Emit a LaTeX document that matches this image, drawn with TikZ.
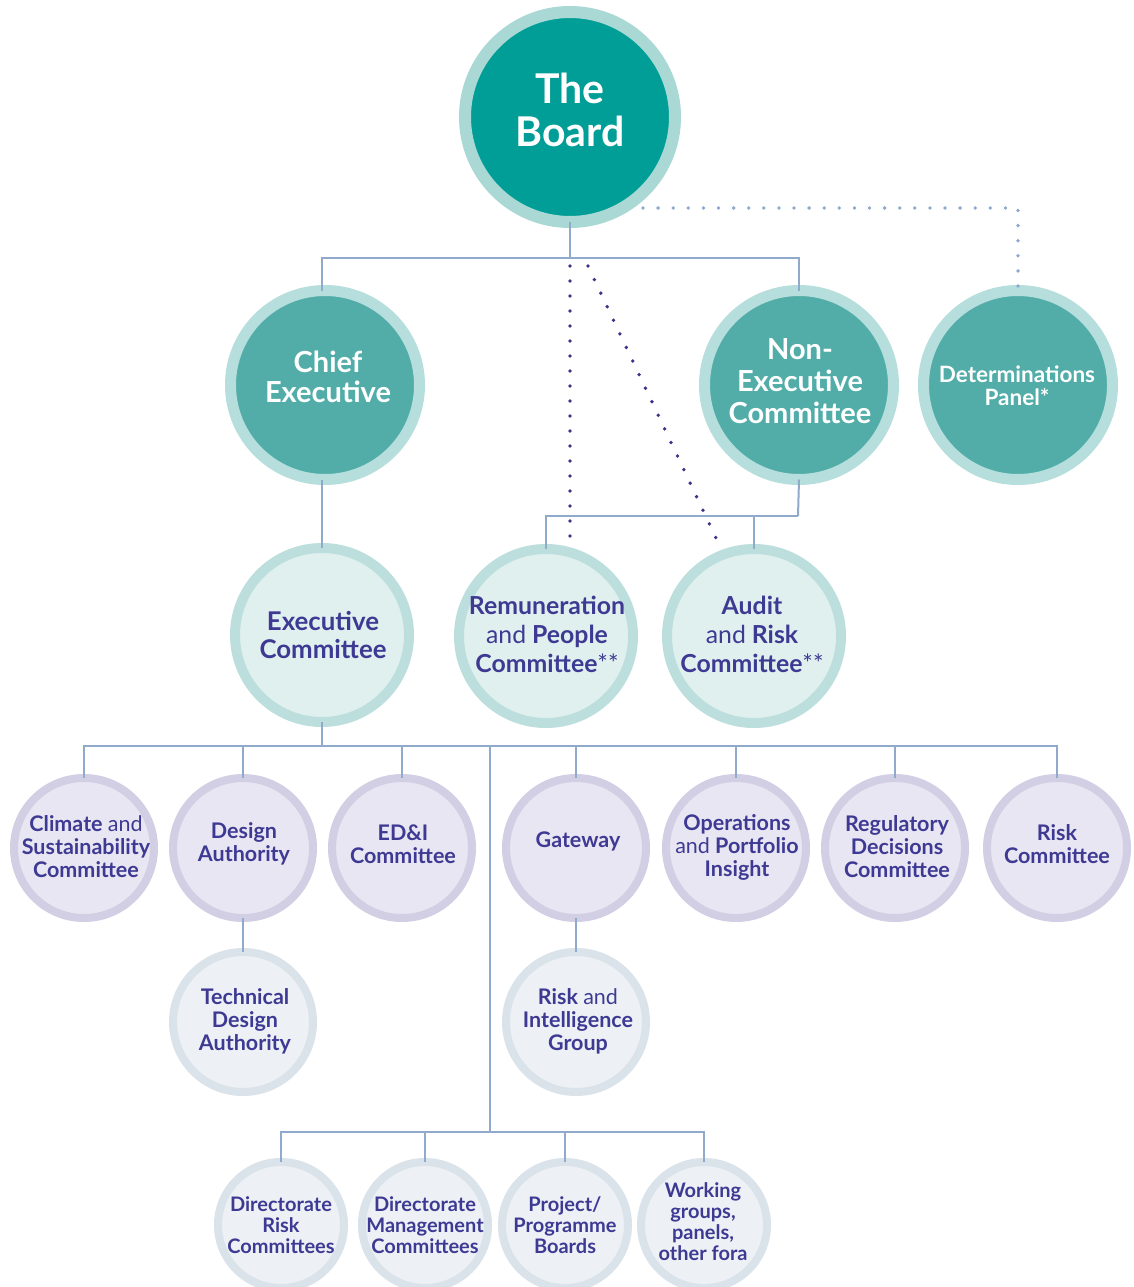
\documentclass[tikz,border=0pt]{standalone}
\usepackage{fontspec}
\setmainfont{Lato}
\definecolor{boardfill}{HTML}{009E96}
\definecolor{boardring}{HTML}{A9D8D5}
\definecolor{tealfill}{HTML}{52ADA9}
\definecolor{tealring}{HTML}{B6DEDC}
\definecolor{palefill}{HTML}{E0F0EF}
\definecolor{palering}{HTML}{BCDFDE}
\definecolor{lilfill}{HTML}{E8E6F2}
\definecolor{lilring}{HTML}{D2CFE4}
\definecolor{grayfill}{HTML}{EDF1F5}
\definecolor{grayring}{HTML}{DAE2EA}
\definecolor{linecol}{HTML}{8FAACB}
\definecolor{txtcol}{HTML}{3E3A93}
\definecolor{dotpurple}{HTML}{3B3589}
\definecolor{dotblue}{HTML}{8FA8CF}
\begin{document}
\begin{tikzpicture}[x=1pt,y=-1pt,
  disc/.style={circle,inner sep=0pt,outer sep=0pt},
  boardc/.style={disc,draw=boardring,fill=boardfill,line width=12pt,minimum size=210pt},
  tealc/.style={disc,draw=tealring,fill=tealfill,line width=11pt,minimum size=189pt},
  palec/.style={disc,draw=palering,fill=palefill,line width=10pt,minimum size=174pt},
  lilc/.style={disc,draw=lilring,fill=lilfill,line width=8pt,minimum size=140pt},
  grayc/.style={disc,draw=grayring,fill=grayfill,line width=8pt,minimum size=140pt},
  smallc/.style={disc,draw=grayring,fill=grayfill,line width=8pt,minimum size=126pt},
  wtxt/.style={text=white,align=center,inner sep=0pt,font=\bfseries},
  ptxt/.style={text=txtcol,align=center,inner sep=0pt,font=\bfseries},
  conn/.style={draw=linecol,line width=2pt},
  pdots/.style={draw=dotpurple,line width=3.8pt,line cap=round,dash pattern=on 0pt off 15pt},
  bdots/.style={draw=dotblue,line width=3.8pt,line cap=round,dash pattern=on 0pt off 15.1pt}
]
\useasboundingbox (0,0) rectangle (1133,1287);
\fill[white] (0,0) rectangle (1133,1287);

\coordinate (j1) at (570,258);
\coordinate (j2) at (798,516);
\coordinate (bus) at (322,746);
\coordinate (bus2) at (490,1132);
\coordinate (pv1) at (570,266);
\coordinate (pv2) at (570,536);
\coordinate (pd1) at (588,266);
\coordinate (pd2) at (716,538);
\coordinate (bd1) at (643,208);

% ---- circles
\node[boardc] (board) at (570,117) {};
\node[tealc] (chief) at (325,385) {};
\node[tealc] (nonexec) at (799,385) {};
\node[tealc] (det) at (1018,385) {};
\node[palec] (exec) at (322,635) {};
\node[palec] (rem) at (546,636) {};
\node[palec] (audit) at (754,636) {};
\node[lilc] (climate) at (84,848) {};
\node[lilc] (design) at (243,848) {};
\node[lilc] (edi) at (402,848) {};
\node[lilc] (gateway) at (576,848) {};
\node[lilc] (ops) at (736,848) {};
\node[lilc] (reg) at (895,848) {};
\node[lilc] (riskc) at (1057,848) {};
\node[grayc] (tech) at (243,1022) {};
\node[grayc] (rig) at (576,1022) {};
\node[smallc] (drc) at (281,1225) {};
\node[smallc] (dmc) at (425,1225) {};
\node[smallc] (ppb) at (565,1225) {};
\node[smallc] (wg) at (704,1225) {};

% ---- solid connectors
\draw[conn] (board.south) -- (j1);
\draw[conn] (chief.north -| exec.north) |- (j1) -| (nonexec.north);
\draw[conn] (chief.south -| exec.north) -- (exec.north);
\draw[conn] (nonexec.south) -- (j2);
\draw[conn] (rem.north) |- (j2);
\draw[conn] (audit.north) -- (audit.north |- j2);
\draw[conn] (exec.south) -- (bus);
\draw[conn] (climate.north) |- (bus) -| (riskc.north);
\draw[conn] (design.north) -- (design.north |- bus);
\draw[conn] (edi.north) -- (edi.north |- bus);
\draw[conn] (gateway.north) -- (gateway.north |- bus);
\draw[conn] (ops.north) -- (ops.north |- bus);
\draw[conn] (reg.north) -- (reg.north |- bus);
\draw[conn] (design.south) -- (tech.north);
\draw[conn] (gateway.south) -- (rig.north);
\draw[conn] (bus2 |- bus) -- (bus2);
\draw[conn] (drc.north) |- (bus2) -| (wg.north);
\draw[conn] (dmc.north) -- (dmc.north |- bus2);
\draw[conn] (ppb.north) -- (ppb.north |- bus2);

% ---- dotted connectors
\draw[pdots] (pv1) -- (pv2);
\draw[pdots] (pd1) -- (pd2);
\draw[bdots] (bd1) -| ([yshift=-3pt]det.north);

% ---- texts
\node[wtxt,font=\fontsize{41}{43}\selectfont\bfseries] (board-t) at (570,110) {The\\Board};
\node[wtxt,font=\fontsize{29}{30}\selectfont\bfseries] (chief-t) at (328,377) {Chief\\Executive};
\node[wtxt,font=\fontsize{29}{32}\selectfont\bfseries] (nonexec-t) at (800,381) {Non-\\Executive\\Committee};
\node[wtxt,font=\fontsize{22.5}{23}\selectfont\bfseries] (det-t) at (1017,386) {Determinations\\Panel*};
\node[ptxt,font=\fontsize{25.8}{28}\selectfont\bfseries] (exec-t) at (323,635) {Executive\\Committee};
\node[ptxt,font=\fontsize{24.8}{29}\selectfont\bfseries] (rem-t) at (547,634) {Remuneration\\{\mdseries and} People\\Committee{\mdseries**}};
\node[ptxt,font=\fontsize{24.8}{29}\selectfont\bfseries] (audit-t) at (752,634) {Audit\\{\mdseries and} Risk\\Committee{\mdseries**}};
\node[ptxt,font=\fontsize{21.5}{23}\selectfont\bfseries] (climate-t) at (86,847) {Climate {\mdseries and}\\Sustainability\\Committee};
\node[ptxt,font=\fontsize{21.5}{23}\selectfont\bfseries] (design-t) at (244,844) {Design\\Authority};
\node[ptxt,font=\fontsize{21.5}{23}\selectfont\bfseries] (edi-t) at (403,844) {ED\&I\\Committee};
\node[ptxt,font=\fontsize{21.5}{23}\selectfont\bfseries] (gateway-t) at (578,841) {Gateway};
\node[ptxt,font=\fontsize{21.5}{23}\selectfont\bfseries] (ops-t) at (737,847) {Operations\\{\mdseries and} Portfolio\\Insight};
\node[ptxt,font=\fontsize{21.5}{23}\selectfont\bfseries] (reg-t) at (897,847) {Regulatory\\Decisions\\Committee};
\node[ptxt,font=\fontsize{21.5}{23}\selectfont\bfseries] (riskc-t) at (1057,844) {Risk\\Committee};
\node[ptxt,font=\fontsize{21.5}{23}\selectfont\bfseries] (tech-t) at (245,1021) {Technical\\Design\\Authority};
\node[ptxt,font=\fontsize{21.5}{23}\selectfont\bfseries] (rig-t) at (578,1021) {Risk {\mdseries and}\\Intelligence\\Group};
\node[ptxt,font=\fontsize{20}{21}\selectfont\bfseries] (drc-t) at (281,1225) {Directorate\\Risk\\Committees};
\node[ptxt,font=\fontsize{20}{21}\selectfont\bfseries] (dmc-t) at (425,1225) {Directorate\\Management\\Committees};
\node[ptxt,font=\fontsize{20}{21}\selectfont\bfseries] (ppb-t) at (565,1225) {Project/\\Programme\\Boards};
\node[ptxt,font=\fontsize{20}{21}\selectfont\bfseries] (wg-t) at (703,1222) {Working\\groups,\\panels,\\other fora};
\end{tikzpicture}
\end{document}
